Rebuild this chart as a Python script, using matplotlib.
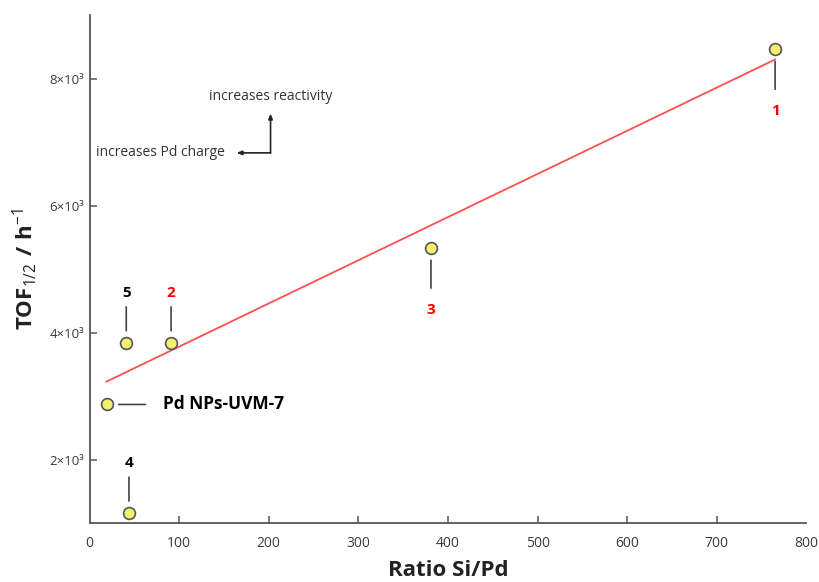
import matplotlib
matplotlib.use('Agg')
import matplotlib.pyplot as plt
from matplotlib.ticker import FixedLocator, FuncFormatter

# Data
samples = ['1', '2', '3', '4', '5', 'Pd NPs-UVM-7']
ratio_si_pd = [765, 91, 381, 44, 41, 19]
tof = [8460, 3840, 5330, 1160, 3840, 2870]
label_colors = ['red', 'red', 'red', 'black', 'black', 'black']
# label side: 'below', 'above' or 'right'
label_side = ['below', 'above', 'below', 'above', 'above', 'right']

# linear trend line (end points)
fit_x = [19, 765]
fit_y = [3230, 8300]

x_ticks = [0, 100, 200, 300, 400, 500, 600, 700, 800]
y_ticks = [2000, 4000, 6000, 8000]

plt.rcParams['font.family'] = ['Open Sans', 'DejaVu Sans']
plt.rcParams['mathtext.fontset'] = 'custom'
plt.rcParams['mathtext.rm'] = 'Open Sans'
plt.rcParams['mathtext.bf'] = 'Open Sans:bold'
plt.rcParams['mathtext.fallback'] = 'stixsans'

fig = plt.figure(figsize=(8.19, 5.82), dpi=100)
ax = fig.add_axes([0.1093, 0.1009, 0.8754, 0.8733])

ax.plot(fit_x, fit_y, color='#ff5050', lw=1.3, zorder=2)
ax.plot(ratio_si_pd, tof, 'o', ms=8.5, mfc='#f4ef6e', mec='#555555', mew=1.2, zorder=3)

# sample labels with short leader lines
px = 0.72  # points per pixel
for name, x, y, c, side in zip(samples, ratio_si_pd, tof, label_colors, label_side):
    if side == 'above':
        ax.annotate('', xy=(x, y), xytext=(0, 36 * px), textcoords='offset points',
                    arrowprops=dict(arrowstyle='-', color='#444444', lw=1.2,
                                    shrinkA=0, shrinkB=12 * px))
        ax.annotate(name, xy=(x, y), xytext=(0, 50 * px), textcoords='offset points',
                    ha='center', va='center', color=c, fontsize=11, fontweight='bold')
    elif side == 'below':
        ax.annotate('', xy=(x, y), xytext=(0, -40 * px), textcoords='offset points',
                    arrowprops=dict(arrowstyle='-', color='#444444', lw=1.2,
                                    shrinkA=0, shrinkB=12 * px))
        ax.annotate(name, xy=(x, y), xytext=(0, -62 * px), textcoords='offset points',
                    ha='center', va='center', color=c, fontsize=11, fontweight='bold')
    else:
        ax.annotate('', xy=(x, y), xytext=(39 * px, 0), textcoords='offset points',
                    arrowprops=dict(arrowstyle='-', color='#444444', lw=1.2,
                                    shrinkA=0, shrinkB=12 * px))
        ax.annotate(name, xy=(x, y), xytext=(56 * px, 0), textcoords='offset points',
                    ha='left', va='center', color=c, fontsize=12.5, fontweight='bold')

# reactivity / Pd charge arrows
corner = (202, 6830)
ax.annotate('', xy=(164, corner[1]), xytext=corner,
            arrowprops=dict(arrowstyle='-|>,head_length=0.3,head_width=0.12',
                            color='#222222', lw=1.2, shrinkA=0, shrinkB=0))
ax.annotate('', xy=(corner[0], 7450), xytext=corner,
            arrowprops=dict(arrowstyle='-|>,head_length=0.3,head_width=0.12',
                            color='#222222', lw=1.2, shrinkA=0, shrinkB=0))
ax.text(202, 7720, 'increases reactivity', ha='center', va='center',
        fontsize=10, color='#333333')
ax.text(7, 6830, 'increases Pd charge', ha='left', va='center',
        fontsize=10, color='#333333')

ax.set_xlim(0, 800)
ax.set_ylim(1000, 9000)
ax.xaxis.set_major_locator(FixedLocator(x_ticks))
ax.yaxis.set_major_locator(FixedLocator(y_ticks))
ax.yaxis.set_major_formatter(FuncFormatter(lambda v, p: f'{int(v / 1000)}×10³'))

for s in ['top', 'right']:
    ax.spines[s].set_visible(False)
for s in ['left', 'bottom']:
    ax.spines[s].set_color('#555555')
    ax.spines[s].set_linewidth(1.3)
ax.tick_params(direction='in', length=5, width=1.1, color='#555555',
               labelcolor='#3a3a3a', labelsize=10)
ax.tick_params(axis='x', pad=9)
ax.tick_params(axis='y', pad=4, labelsize=9.5)
ax.xaxis.get_major_ticks()[-1].tick1line.set_visible(False)
ax.xaxis.get_major_ticks()[0].tick1line.set_visible(False)

ax.set_xlabel('Ratio Si/Pd', fontsize=16, fontweight='bold', color='#222222', va='center')
ax.xaxis.set_label_coords(0.5, -0.092)
ax.set_ylabel(r'$\mathbf{TOF}_{1/2}\mathbf{\ /\ h}^{-1}$', fontsize=16, color='#222222',
              va='center')
ax.yaxis.set_label_coords(-0.09, 0.5)

fig.savefig('out.png', dpi=100)
